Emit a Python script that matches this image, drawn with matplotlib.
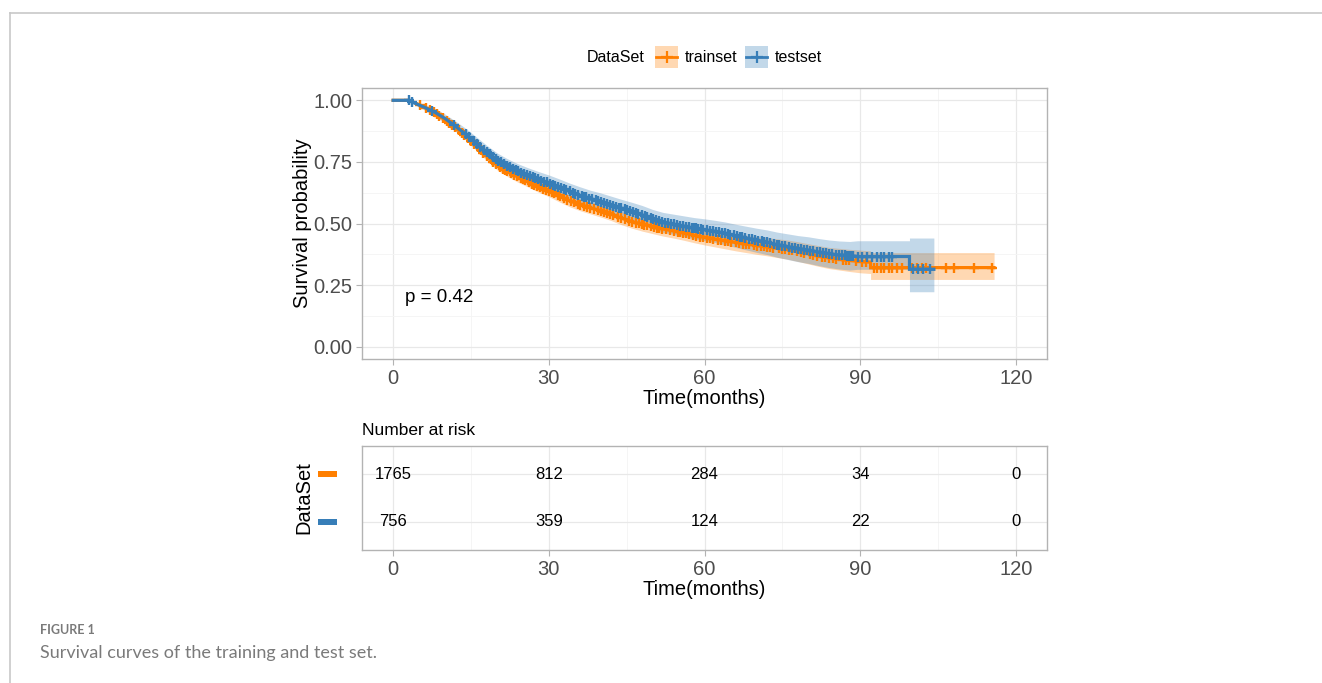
import numpy as np
import matplotlib
matplotlib.use('Agg')
import matplotlib.pyplot as plt
from matplotlib.lines import Line2D
from matplotlib.patches import Rectangle
from matplotlib.ticker import MultipleLocator

plt.rcParams['font.family'] = ['Liberation Sans', 'DejaVu Sans']

groups = ['trainset', 'testset']
colors = ['#FF7F00', '#377EB8']

# Kaplan-Meier curves (time in months);
# a repeated time marks a visible vertical drop
train_t = [0, 3, 4, 6, 8, 10, 12, 14, 16, 18, 20, 22, 24, 26, 28, 30, 32, 34, 36, 38, 40,
           42, 44, 46, 48, 50, 52, 54, 56, 58, 60, 62, 64, 66, 68, 70, 72, 74, 76, 78, 80,
           82, 84, 86, 88, 90, 92, 92, 115.8]
train_s = [1.000, 1.000, 0.992, 0.972, 0.950, 0.922, 0.890, 0.855, 0.815, 0.775, 0.738,
           0.712, 0.690, 0.670, 0.650, 0.632, 0.612, 0.592, 0.577, 0.564, 0.552, 0.538,
           0.522, 0.508, 0.497, 0.487, 0.478, 0.470, 0.462, 0.452, 0.444, 0.437, 0.430,
           0.423, 0.417, 0.411, 0.406, 0.400, 0.394, 0.386, 0.377, 0.368, 0.360, 0.355,
           0.350, 0.346, 0.343, 0.321, 0.321]
train_lo = [1.000, 1.000, 0.988, 0.965, 0.940, 0.910, 0.876, 0.839, 0.797, 0.756, 0.718,
            0.691, 0.668, 0.648, 0.627, 0.609, 0.588, 0.568, 0.552, 0.539, 0.526, 0.512,
            0.495, 0.481, 0.469, 0.459, 0.449, 0.441, 0.432, 0.422, 0.413, 0.405, 0.397,
            0.389, 0.382, 0.375, 0.369, 0.362, 0.355, 0.346, 0.336, 0.326, 0.317, 0.311,
            0.305, 0.300, 0.297, 0.273, 0.273]
train_hi = [1.000, 1.000, 0.996, 0.979, 0.960, 0.934, 0.904, 0.871, 0.833, 0.794, 0.758,
            0.733, 0.712, 0.692, 0.673, 0.655, 0.636, 0.616, 0.602, 0.589, 0.578, 0.564,
            0.549, 0.535, 0.525, 0.515, 0.507, 0.499, 0.492, 0.482, 0.475, 0.469, 0.463,
            0.457, 0.452, 0.447, 0.443, 0.438, 0.433, 0.426, 0.418, 0.410, 0.403, 0.399,
            0.395, 0.392, 0.389, 0.382, 0.382]

test_t = [0, 3, 4, 6, 8, 10, 12, 14, 16, 18, 20, 22, 24, 26, 28, 30, 32, 34, 36, 38, 40,
          42, 44, 46, 48, 50, 52, 54, 56, 58, 60, 62, 64, 66, 68, 70, 72, 74, 76, 78, 80,
          82, 84, 86, 88, 89.5, 99.5, 99.5, 104.2]
test_s = [1.000, 1.000, 0.990, 0.972, 0.952, 0.926, 0.895, 0.862, 0.826, 0.790, 0.758,
          0.733, 0.712, 0.694, 0.678, 0.664, 0.647, 0.630, 0.614, 0.600, 0.588, 0.575,
          0.561, 0.548, 0.535, 0.518, 0.505, 0.497, 0.489, 0.481, 0.475, 0.468, 0.460,
          0.450, 0.441, 0.432, 0.424, 0.414, 0.406, 0.398, 0.392, 0.384, 0.377, 0.372,
          0.369, 0.366, 0.366, 0.314, 0.314]
test_lo = [1.000, 1.000, 0.983, 0.961, 0.937, 0.908, 0.874, 0.838, 0.800, 0.762, 0.729,
           0.703, 0.681, 0.662, 0.645, 0.631, 0.613, 0.596, 0.579, 0.565, 0.552, 0.539,
           0.524, 0.510, 0.497, 0.479, 0.465, 0.456, 0.447, 0.438, 0.431, 0.423, 0.414,
           0.403, 0.393, 0.383, 0.374, 0.363, 0.354, 0.345, 0.338, 0.329, 0.321, 0.315,
           0.311, 0.314, 0.314, 0.223, 0.223]
test_hi = [1.000, 1.000, 0.997, 0.983, 0.967, 0.944, 0.916, 0.886, 0.852, 0.818, 0.787,
           0.763, 0.743, 0.726, 0.711, 0.697, 0.681, 0.664, 0.649, 0.635, 0.624, 0.611,
           0.598, 0.586, 0.573, 0.557, 0.545, 0.538, 0.531, 0.524, 0.519, 0.513, 0.506,
           0.497, 0.489, 0.481, 0.474, 0.465, 0.458, 0.451, 0.446, 0.439, 0.433, 0.429,
           0.427, 0.430, 0.430, 0.441, 0.441]

# censoring times (the "+" marks)
train_censor = [5.2, 6.4, 7.1, 7.8, 8.5, 8.9, 9.7, 10.3, 10.8, 11.4, 11.9, 12.6, 13.2, 13.7,
                14.4, 15.1, 15.6, 16.3, 16.9, 17.4, 18.1, 18.8, 19.3, 19.9, 20.6, 21.2,
                21.6, 22.0, 22.7, 23.3, 23.9, 24.6, 25.0, 25.4, 26.1, 26.8, 27.2, 27.7,
                28.3, 28.9, 29.5, 30.1, 30.6, 31.0, 31.7, 32.2, 32.9, 33.5, 34.3, 34.9,
                35.6, 36.1, 36.7, 37.3, 37.9, 38.8, 39.4, 40.1, 40.6, 41.2, 41.8, 42.4,
                43.3, 43.9, 44.6, 45.5, 46.1, 46.8, 47.3, 47.9, 48.4, 49.0, 49.7, 50.2,
                50.8, 51.3, 51.9, 52.5, 53.4, 54.1, 54.8, 55.3, 55.9, 56.5, 57.0, 57.7,
                58.3, 59.2, 59.8, 60.5, 61.1, 61.7, 62.6, 63.2, 63.9, 64.5, 65.1, 66.0,
                66.6, 67.4, 68.0, 68.5, 69.6, 70.2, 70.9, 71.5, 72.0, 72.6, 73.2, 74.3,
                74.9, 75.6, 76.2, 76.8, 77.9, 78.5, 79.1, 80.4, 81.0, 81.6, 82.7, 83.3,
                84.0, 84.8, 85.3, 86.6, 87.2, 87.8, 89.1, 90.4, 91.2, 92.7, 93.3, 94.0,
                94.6, 95.6, 96.2, 97.1, 98.1, 100.0, 101.0, 102.0, 102.7, 106.5, 108.1,
                111.9, 115.4]
test_censor = [3.0, 3.6, 7.4, 11.8, 14.0, 14.6, 15.5, 16.2, 16.8, 17.5, 18.0, 18.6, 19.2,
               19.8, 20.3, 20.7, 21.3, 21.9, 22.5, 23.1, 23.6, 24.0, 24.6, 25.2, 25.7,
               26.3, 26.9, 27.4, 27.9, 28.5, 29.1, 29.6, 30.2, 30.8, 31.2, 31.7, 32.3,
               32.9, 33.4, 34.0, 34.6, 35.1, 35.7, 36.3, 36.8, 37.2, 37.8, 38.4, 39.0,
               39.5, 40.0, 40.6, 41.2, 41.8, 42.3, 42.9, 43.5, 44.0, 44.6, 45.1, 45.7,
               46.3, 46.8, 47.2, 47.9, 48.5, 49.0, 49.6, 50.1, 50.7, 51.3, 51.8, 52.4,
               53.0, 53.6, 54.1, 54.7, 55.3, 55.8, 56.4, 57.0, 57.5, 57.9, 58.3, 58.7,
               59.3, 59.8, 60.4, 61.0, 61.6, 62.2, 62.8, 63.3, 63.9, 64.5, 65.0, 65.6,
               66.2, 66.8, 67.3, 67.9, 68.5, 69.1, 69.8, 70.4, 71.0, 71.5, 72.1, 72.7,
               73.3, 73.9, 74.4, 75.0, 75.6, 76.2, 76.9, 77.5, 78.0, 78.6, 79.2, 79.8,
               80.4, 81.0, 81.7, 82.3, 82.9, 83.5, 84.0, 84.6, 85.3, 85.9, 86.5, 87.1,
               87.5, 87.9, 88.3, 88.7, 89.6, 90.4, 91.3, 92.3, 93.3, 94.0, 94.6, 95.6,
               96.2, 100.2, 101.2, 102.1, 103.4]

risk_times = [0, 30, 60, 90, 120]
risk_train = [1765, 812, 284, 34, 0]
risk_test = [756, 359, 124, 22, 0]

pval_text = 'p = 0.42'

W, H = 1322, 683
fig = plt.figure(figsize=(W / 100, H / 100), dpi=100)

grey_txt = '#4D4D4D'
border = '#B3B3B3'


def style_axes(ax):
    for sp in ax.spines.values():
        sp.set_color(border)
        sp.set_linewidth(1.0)
    ax.grid(which='major', color='#E8E8E8', lw=0.9)
    ax.grid(which='minor', color='#F4F4F4', lw=0.6)
    ax.set_axisbelow(True)
    ax.tick_params(which='major', length=4, color=border, labelcolor=grey_txt,
                   labelsize=14.5, pad=3)
    ax.tick_params(which='minor', length=0)


# main survival panel
ax = fig.add_axes([362 / W, 1 - 359 / H, 685 / W, 271 / H])
curves = [(train_t, train_s, train_lo, train_hi, train_censor),
          (test_t, test_s, test_lo, test_hi, test_censor)]
for (t, s, lo, hi, cens), col in zip(curves, colors):
    ax.fill_between(t, lo, hi, color=col, alpha=0.3, lw=0)
for (t, s, lo, hi, cens), col in zip(curves, colors):
    ax.plot(t, s, color=col, lw=2.3, solid_joinstyle='miter')
    # marks sit on the drawn curve
    ax.plot(cens, np.interp(cens, t, s), '+', color=col, ms=7.5, mew=1.7, ls='none')

ax.set_xlim(-6, 126)
ax.set_ylim(-0.05, 1.05)
ax.xaxis.set_major_locator(MultipleLocator(30))
ax.xaxis.set_minor_locator(MultipleLocator(15))
ax.yaxis.set_minor_locator(MultipleLocator(0.125))
ax.set_yticks([0, 0.25, 0.5, 0.75, 1.0])
ax.set_yticklabels(['0.00', '0.25', '0.50', '0.75', '1.00'])
style_axes(ax)
ax.set_xlabel('Time(months)', fontsize=14.5, labelpad=1)
ax.set_ylabel('Survival probability', fontsize=14.5, labelpad=1)
ax.text(2.3, 0.2, pval_text, fontsize=13.5, ha='left', va='center')

# risk table
rt = fig.add_axes([362 / W, 1 - 550 / H, 685 / W, 104 / H])
rows = [risk_train, risk_test]
ypos = [2, 1]
for vals, y in zip(rows, ypos):
    for x, v in zip(risk_times, vals):
        rt.text(x, y, str(v), ha='center', va='center', fontsize=12)
rt.set_xlim(-6, 126)
rt.set_ylim(0.4, 2.6)
rt.xaxis.set_major_locator(MultipleLocator(30))
rt.xaxis.set_minor_locator(MultipleLocator(15))
rt.set_yticks(ypos)
rt.set_yticklabels([])
style_axes(rt)
rt.tick_params(axis='y', length=0)
rt.set_xlabel('Time(months)', fontsize=14.5, labelpad=1)
rt.set_ylabel('DataSet', fontsize=14.5, labelpad=32)
rt.set_title('Number at risk', fontsize=12.5, loc='left', pad=8)
# coloured strips instead of y tick labels
for y, col in zip(ypos, colors):
    ydisp = rt.transData.transform((0, y))[1]
    fig.add_artist(Rectangle((318 / W, (ydisp - 3) / H), 19 / W, 6 / H,
                             transform=fig.transFigure, color=col, lw=0))

# legend on top
ly = 1 - 57 / H
fig.text(587 / W, ly, 'DataSet', fontsize=11.5, ha='left', va='center')
for x0, col, lab in [(655, colors[0], groups[0]), (745, colors[1], groups[1])]:
    fig.add_artist(Rectangle((x0 / W, 1 - 68 / H), 23 / W, 22 / H,
                             transform=fig.transFigure, color=col, alpha=0.3, lw=0))
    fig.add_artist(Line2D([(x0 + 1) / W, (x0 + 22) / W], [ly, ly],
                          transform=fig.transFigure, color=col, lw=2))
    fig.add_artist(Line2D([(x0 + 11.5) / W], [ly], transform=fig.transFigure,
                          color=col, marker='+', ms=9, mew=1.6))
    fig.text((x0 + 30) / W, ly, lab, fontsize=11.5, ha='left', va='center')

# page frame and caption
fig.add_artist(Line2D([9.5 / W, 9.5 / W], [0, 1 - 12.5 / H], transform=fig.transFigure,
                      color='#C8C8C8', lw=1.2))
fig.add_artist(Line2D([9.5 / W, 1], [1 - 12.5 / H, 1 - 12.5 / H], transform=fig.transFigure,
                      color='#C8C8C8', lw=1.2))
fig.text(40 / W, 1 - 630 / H, 'FIGURE 1', fontsize=9, color='#7A7A7A', fontweight='bold',
         family=['Lato', 'DejaVu Sans'], va='center')
fig.text(40 / W, 1 - 653 / H, 'Survival curves of the training and test set.', fontsize=13,
         color='#7A7A7A', family=['Lato', 'DejaVu Sans'], va='center')

fig.savefig('out.png', dpi=100)
